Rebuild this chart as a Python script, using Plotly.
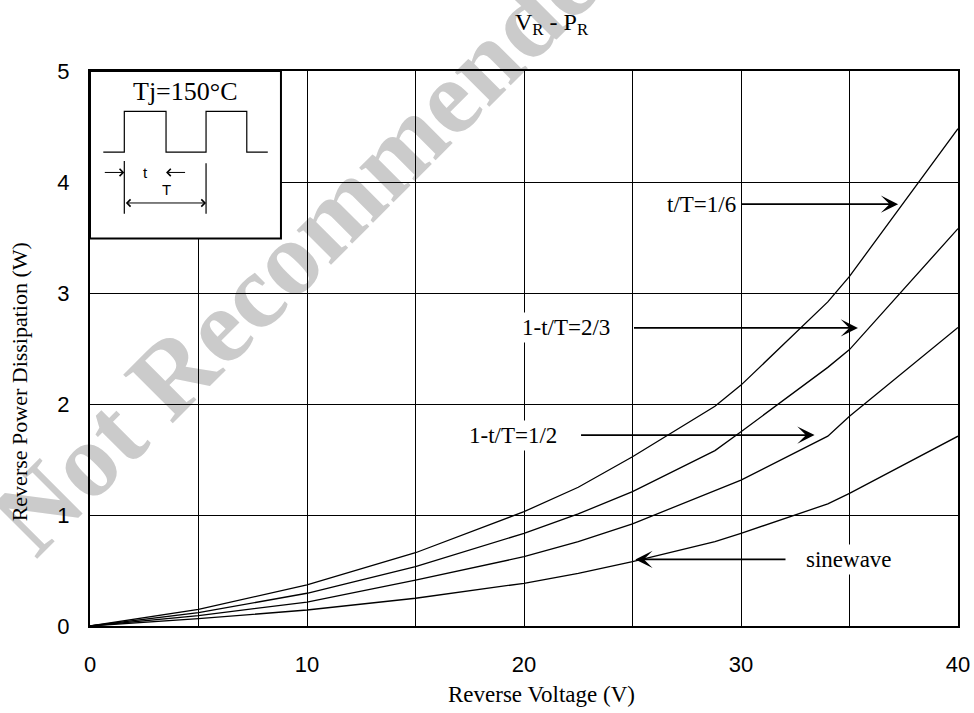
import plotly.graph_objects as go

# ---------------- data ----------------
voltage = [0, 5, 10, 15, 20, 22.5, 25, 28.8, 30, 34, 35, 40]
p_t_1_6 = [0, 0.15, 0.37, 0.66, 1.03, 1.25, 1.525, 1.98, 2.17, 2.92, 3.15, 4.48]
p_1t_2_3 = [0, 0.12, 0.295, 0.534, 0.835, 1.01, 1.21, 1.58, 1.75, 2.33, 2.49, 3.58]
p_1t_1_2 = [0, 0.093, 0.216, 0.414, 0.624, 0.76, 0.92, 1.22, 1.315, 1.71, 1.89, 2.69]
p_sine = [0, 0.066, 0.144, 0.25, 0.385, 0.475, 0.58, 0.76, 0.835, 1.10, 1.195, 1.71]

series_names = ["t/T=1/6", "1-t/T=2/3", "1-t/T=1/2", "sinewave"]
series_values = [p_t_1_6, p_1t_2_3, p_1t_1_2, p_sine]

x_range = [0, 40]
y_range = [0, 5]

# ---------------- styling ----------------
SERIF = "Liberation Serif, Times New Roman, serif"
SANS = "Liberation Sans, Arial, sans-serif"

fig = go.Figure()
for name, vals in zip(series_names, series_values):
    fig.add_trace(go.Scatter(x=voltage, y=vals, mode="lines", name=name,
                             line=dict(color="black", width=1.3),
                             showlegend=False, hoverinfo="skip"))

# curve labels: text position (x, y, anchor) and arrow tail/tip (data units)
labels = [
    dict(text="t/T=1/6", x=29.9, y=3.80, xanchor="right", tail=29.97, tip=37.24),
    dict(text="1-t/T=2/3", x=21.94, y=2.685, xanchor="center", tail=25.0, tip=35.39),
    dict(text="1-t/T=1/2", x=19.5, y=1.72, xanchor="center", tail=22.56, tip=33.39),
    dict(text="sinewave", x=34.99, y=0.60, xanchor="center", tail=32.12, tip=25.13),
]

annotations = []
for lb in labels:
    annotations.append(dict(
        x=lb["tip"], y=lb["y"], ax=lb["tail"], ay=lb["y"], xref="x", yref="y",
        axref="x", ayref="y", text="", showarrow=True, arrowhead=3,
        arrowsize=1.6, arrowwidth=1.8, arrowcolor="black", standoff=0))
    annotations.append(dict(
        x=lb["x"], y=lb["y"], xref="x", yref="y", text=lb["text"],
        showarrow=False, xanchor=lb["xanchor"], yanchor="middle",
        bgcolor="white", borderpad=2,
        font=dict(family=SERIF, size=23, color="black")))

# titles
annotations += [
    dict(text="V<sub>R</sub> - P<sub>R</sub>", x=0.532, y=1.085, xref="paper",
         yref="paper", showarrow=False, xanchor="center", yanchor="middle",
         font=dict(family=SERIF, size=24, color="black")),
    dict(text="Reverse Voltage (V)", x=0.5196, y=-0.124, xref="paper",
         yref="paper", showarrow=False, xanchor="center", yanchor="middle",
         font=dict(family=SERIF, size=23, color="black")),
    dict(text="Reverse Power Dissipation (W)", x=-0.0812, y=0.44,
         xref="paper", yref="paper", showarrow=False, textangle=-90,
         xanchor="center", yanchor="middle",
         font=dict(family=SERIF, size=22, color="black")),
]

# ---------------- inset (pulse diagram) ----------------
inset_box = dict(x0=0, x1=8.8, y0=3.49, y1=5)
wave_x = [0.613, 1.581, 1.581, 3.504, 3.504, 5.348, 5.348, 7.225, 7.225, 8.193]
wave_y = [4.270, 4.270, 4.636, 4.636, 4.270, 4.270, 4.636, 4.636, 4.270, 4.270]

shapes = [
    dict(type="rect", xref="x", yref="y", **inset_box, fillcolor="white",
         line=dict(color="black", width=2), layer="above"),
    dict(type="path", xref="x", yref="y",
         path="M " + " L ".join(f"{a},{b}" for a, b in zip(wave_x, wave_y)),
         line=dict(color="black", width=1.2), layer="above"),
    dict(type="line", xref="x", yref="y", x0=1.581, x1=1.581, y0=4.19, y1=3.714,
         line=dict(color="black", width=1.2), layer="above"),
    dict(type="line", xref="x", yref="y", x0=5.348, x1=5.348, y0=4.17, y1=3.714,
         line=dict(color="black", width=1.2), layer="above"),
    # watermark, drawn beneath the grid
    dict(type="line", xref="paper", yref="paper", x0=0.1685, y0=0.601,
         x1=0.3315, y1=0.8559, line=dict(color="rgba(0,0,0,0)", width=0),
         layer="below",
         label=dict(text="<b>Not Recommended</b>", textposition="middle",
                    textangle=-45, yanchor="middle",
                    font=dict(family=SERIF, size=106, color="#cbcbcb"))),
]

inset_arrow = dict(xref="x", yref="y", axref="x", ayref="y", text="",
                   showarrow=True, arrowhead=4, arrowsize=1.4, arrowwidth=1,
                   arrowcolor="black", standoff=0)
annotations += [
    dict(x=1.581, y=4.086, ax=0.613, ay=4.086, **inset_arrow),
    dict(x=3.504, y=4.086, ax=4.45, ay=4.086, **inset_arrow),
    dict(x=5.348, y=3.811, ax=1.581, ay=3.811, arrowside="end+start",
         startarrowhead=4, startarrowsize=1.4, **inset_arrow),
    dict(text="Tj=150°C", x=4.38, y=4.816, xref="x", yref="y", showarrow=False,
         font=dict(family=SERIF, size=26, color="black")),
    dict(text="t", x=2.568, y=4.086, xref="x", yref="y", showarrow=False,
         font=dict(family=SANS, size=15, color="black")),
    dict(text="T", x=3.504, y=3.93, xref="x", yref="y", showarrow=False,
         font=dict(family=SANS, size=15, color="black")),
]

axis_common = dict(showline=True, mirror=True, linecolor="black", linewidth=2,
                   showgrid=True, gridcolor="black", gridwidth=1.2,
                   zeroline=False, ticks="", color="black", automargin=False,
                   tickfont=dict(family=SANS, size=22, color="black"))

fig.update_layout(
    template="none",
    width=974, height=713,
    margin=dict(l=90, r=16, t=71, b=87),
    paper_bgcolor="white", plot_bgcolor="rgba(0,0,0,0)",
    xaxis=dict(range=x_range, tickmode="linear", tick0=0, dtick=10,
               minor=dict(dtick=5, showgrid=True, gridcolor="black",
                          gridwidth=1.2, ticks=""),
               ticklabelstandoff=18, **axis_common),
    yaxis=dict(range=y_range, tickmode="linear", tick0=0, dtick=1,
               ticklabelstandoff=14, **axis_common),
    annotations=annotations,
    shapes=shapes,
    showlegend=False,
)

fig.write_html("out.html",
               config={"displayModeBar": False},
               post_script="document.body.style.margin='0px';"
                           "document.body.style.padding='0px';")
